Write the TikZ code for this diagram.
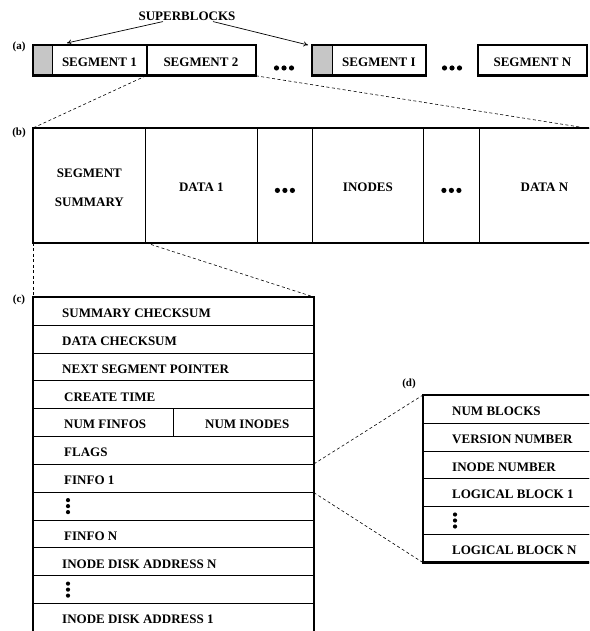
\documentclass[tikz,border=0pt]{standalone}
\usepackage{fontspec}
\setmainfont{Liberation Serif}
\usetikzlibrary{arrows.meta}
\tikzset{
  dotsh/.pic={\foreach \i in {-7.5,0,7.5} \fill (\i,0) circle (2.6pt);},
  dotsv/.pic={\foreach \i in {-6,0,6} \fill (0,\i) circle (2.1pt);}
}
\begin{document}
\begin{tikzpicture}[x=1pt,y=-1pt,
  txt/.style={font=\bfseries\fontsize{13}{15}\selectfont, inner sep=1pt, yshift=-2pt},
  tag/.style={font=\bfseries\fontsize{11}{13}\selectfont, inner sep=0pt},
  cell/.style={draw, line width=0.8pt, anchor=north west, inner sep=0pt},
  rowc/.style={cell, minimum width=280pt, minimum height=27.83pt},
  rowd/.style={cell, minimum width=200pt, minimum height=27.8pt},
  frame/.style={line width=2.6pt, line join=miter},
  shade/.style={cell, fill=gray!45, draw=gray, line width=0.6pt},
  link/.style={dashed, line width=0.6pt, dash pattern=on 3pt off 2.5pt},
  pointer/.style={-{To[length=4.5pt,width=5pt]}, line width=0.7pt}
]
\useasboundingbox (0,0) rectangle (589,631);
\clip (0,0) rectangle (589,631);

% ---------- (a) log of segments ----------
\node[tag] (taga) at (19,47) {(a)};
\node[shade, minimum width=19pt, minimum height=30pt] (sb1) at (33,45) {};
\node[cell, minimum width=94pt, minimum height=30pt] (seg1) at (52,45) {};
\node[cell, minimum width=109pt, minimum height=30pt] (seg2) at (146,45) {};
\draw[frame] (sb1.north west) rectangle (seg2.south east);
\draw[frame] (seg1.north east) -- (seg1.south east);
\node[txt] (seg1t) at (seg1.center) {SEGMENT 1};
\node[txt] (seg2t) at (seg2.center) {SEGMENT 2};
\pic at (284,68) {dotsh};

\node[shade, minimum width=20pt, minimum height=30pt] (sbi) at (312,45) {};
\node[cell, minimum width=93pt, minimum height=30pt] (segi) at (332,45) {};
\draw[frame] (sbi.north west) rectangle (segi.south east);
\node[txt] (segit) at (segi.center) {SEGMENT I};
\pic at (452,68) {dotsh};

\node[cell, minimum width=108pt, minimum height=30pt] (segn) at (478,45) {};
\draw[frame] (segn.north west) rectangle (segn.south east);
\node[txt] (segnt) at (segn.center) {SEGMENT N};

\node[txt] (super) at (187,14) {SUPERBLOCKS};
\coordinate (sbA) at (67,43);
\coordinate (sbB) at (308,45);
\draw[pointer] ([xshift=-24pt]super.south) -- (sbA);
\draw[pointer] ([xshift=26pt]super.south) -- (sbB);

% ---------- (b) one segment ----------
\node[tag] (tagb) at (19,133) {(b)};
\node[cell, minimum width=112pt, minimum height=114pt] (bsum) at (33,128) {};
\node[cell, minimum width=112pt, minimum height=114pt] (bd1) at (145,128) {};
\node[cell, minimum width=55pt, minimum height=114pt] (bdt1) at (257,128) {};
\node[cell, minimum width=111pt, minimum height=114pt] (bino) at (312,128) {};
\node[cell, minimum width=56pt, minimum height=114pt] (bdt2) at (423,128) {};
\node[cell, minimum width=130pt, minimum height=114pt] (bdn) at (479,128) {};
\draw[frame] (bdn.north east) -- (bsum.north west) -- (bsum.south west) -- (bdn.south east);
\node[txt, align=center, font=\bfseries\fontsize{13}{29}\selectfont] (bsumt) at (bsum.center) {SEGMENT\\SUMMARY};
\node[txt] (bd1t) at (bd1.center) {DATA 1};
\node[txt] (binot) at (bino.center) {INODES};
\node[txt] (bdnt) at (bdn.center) {DATA N};
\pic at ([yshift=-5pt]bdt1.center) {dotsh};
\pic at ([yshift=-5pt]bdt2.center) {dotsh};
\coordinate (bcorner) at (586,128);

% ---------- (c) segment summary ----------
\node[tag] (tagc) at (19,300) {(c)};
\foreach \i in {1,...,12}
  \node[rowc] (c\i) at (33,{297+(\i-1)*27.83}) {};
\node[rowc, minimum width=140pt] (c5b) at (173,{297+4*27.83}) {};
\draw[frame] (c1.north west) rectangle ([yshift=-3pt]c12.south east);
\node[txt, anchor=west] (tc1) at ([xshift=28pt]c1.west) {SUMMARY CHECKSUM};
\node[txt, anchor=west] (tc2) at ([xshift=28pt]c2.west) {DATA CHECKSUM};
\node[txt, anchor=west] (tc3) at ([xshift=28pt]c3.west) {NEXT SEGMENT POINTER};
\node[txt, anchor=west] (tc4) at ([xshift=30pt]c4.west) {CREATE TIME};
\node[txt, anchor=west] (tc5) at ([xshift=30pt]c5.west) {NUM FINFOS};
\node[txt, anchor=west] (tc5b) at ([xshift=31pt]c5b.west) {NUM INODES};
\node[txt, anchor=west] (tc6) at ([xshift=30pt]c6.west) {FLAGS};
\node[txt, anchor=west] (tc7) at ([xshift=30pt]c7.west) {FINFO 1};
\pic at ([xshift=35pt]c8.west) {dotsv};
\node[txt, anchor=west] (tc9) at ([xshift=30pt]c9.west) {FINFO N};
\node[txt, anchor=west] (tc10) at ([xshift=28pt]c10.west) {INODE DISK ADDRESS N};
\pic at ([xshift=35pt]c11.west) {dotsv};
\node[txt, anchor=west] (tc12) at ([xshift=28pt]c12.west) {INODE DISK ADDRESS 1};

% ---------- (d) file info ----------
\node[tag] (tagd) at (409,384) {(d)};
\foreach \i in {1,...,6}
  \node[rowd] (d\i) at (423,{395+(\i-1)*27.8}) {};
\draw[frame] (d1.north east) -- (d1.north west) -- (d6.south west) -- (d6.south east);
\node[txt, anchor=west] (td1) at ([xshift=28pt]d1.west) {NUM BLOCKS};
\node[txt, anchor=west] (td2) at ([xshift=28pt]d2.west) {VERSION NUMBER};
\node[txt, anchor=west] (td3) at ([xshift=28pt]d3.west) {INODE NUMBER};
\node[txt, anchor=west] (td4) at ([xshift=28pt]d4.west) {LOGICAL BLOCK 1};
\pic at ([xshift=32pt]d5.west) {dotsv};
\node[txt, anchor=west] (td6) at ([xshift=28pt]d6.west) {LOGICAL BLOCK N};

% ---------- zoom connectors ----------
\draw[link] (seg2.south west) -- (bsum.north west);
\draw[link] (seg2.south east) -- (bcorner);
\draw[link] (bsum.south west) -- (c1.north west);
\draw[link] (bsum.south east) -- (c1.north east);
\draw[link] (c7.north east) -- (d1.north west);
\draw[link] (c7.south east) -- (d6.south west);
\end{tikzpicture}
\end{document}
